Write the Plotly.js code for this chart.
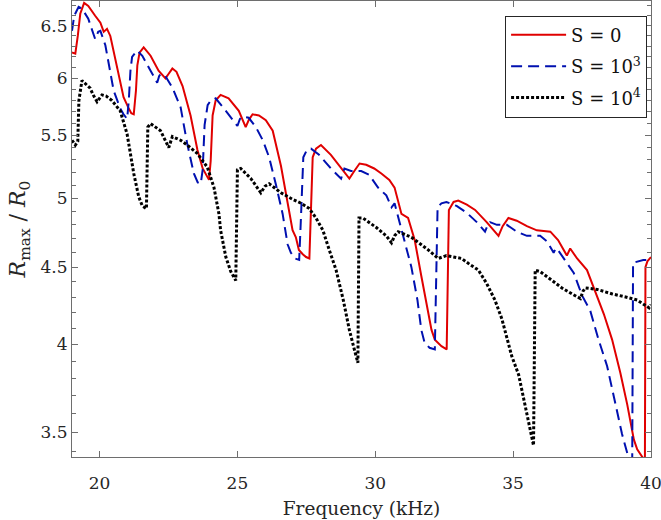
<!DOCTYPE html>
<html>
<head>
<meta charset="utf-8">
<script src="https://cdn.plot.ly/plotly-3.0.1.min.js"></script>
<style>html,body{margin:0;padding:0;background:#fff}#chart{width:661px;height:520px}</style>
</head>
<body>
<div id="chart"></div>
<script>
// S = 0 (red, solid)
var freqS0 = [19.00,19.12,19.21,19.30,19.44,19.59,19.84,20.03,20.15,20.27,20.39,20.63,20.87,21.04,21.15,21.24,21.32,21.37,21.45,21.60,21.85,22.14,22.39,22.50,22.64,22.79,23.01,23.30,23.55,23.74,23.88,23.97,24.03,24.10,24.21,24.39,24.68,25.05,25.30,25.41,25.55,25.78,26.03,26.28,26.58,27.00,27.12,27.23,27.37,27.49,27.61,27.65,27.73,27.85,28.03,28.39,28.76,29.06,29.24,29.43,29.67,29.96,30.22,30.51,30.70,30.95,31.19,31.43,31.67,32.04,32.16,32.40,32.59,32.64,32.67,32.84,33.01,33.32,33.62,34.04,34.47,34.62,34.83,35.13,35.50,35.86,36.35,36.63,36.84,36.95,37.07,37.32,37.68,38.04,38.29,38.59,38.89,39.14,39.38,39.50,39.75,39.78,39.80,39.87,40.00];
var rS0 = [6.24,6.23,6.40,6.62,6.73,6.70,6.60,6.53,6.44,6.47,6.40,6.10,5.83,5.74,5.69,5.68,5.89,6.12,6.24,6.29,6.21,6.07,6.00,6.04,6.09,6.06,5.93,5.67,5.38,5.23,5.17,5.14,5.29,5.67,5.80,5.85,5.82,5.71,5.57,5.63,5.68,5.67,5.63,5.54,5.25,4.76,4.71,4.62,4.59,4.57,4.56,4.83,5.32,5.39,5.42,5.34,5.23,5.15,5.21,5.27,5.26,5.23,5.19,5.14,5.08,4.88,4.85,4.69,4.44,4.09,4.03,3.99,3.97,4.55,4.91,4.97,4.98,4.95,4.91,4.82,4.72,4.79,4.85,4.83,4.79,4.76,4.75,4.69,4.62,4.58,4.63,4.56,4.48,4.31,4.19,4.03,3.83,3.65,3.46,3.41,3.35,3.35,4.50,4.54,4.57];
// S = 10^3 (blue, dashed)
var freqS3 = [19.00,19.08,19.24,19.37,19.59,19.84,19.95,20.03,20.21,20.51,20.75,20.87,21.00,21.06,21.12,21.18,21.36,21.55,21.85,22.09,22.16,22.21,22.39,22.65,22.94,23.18,23.42,23.56,23.67,23.74,23.81,23.92,24.03,24.21,24.58,25.00,25.09,25.18,25.41,25.67,25.92,26.15,26.40,26.64,26.82,26.94,27.09,27.24,27.30,27.39,27.52,27.67,27.96,28.39,28.76,28.83,28.88,29.12,29.49,29.78,30.10,30.40,30.59,30.70,30.83,31.06,31.31,31.53,31.67,31.79,31.97,32.16,32.20,32.26,32.40,32.58,32.95,33.31,33.68,33.98,34.08,34.16,34.41,34.77,35.13,35.50,35.98,36.23,36.47,36.54,36.59,36.84,37.20,37.50,37.80,38.08,38.41,38.66,38.95,39.14,39.32,39.35,39.72,40.00];
var rS3 = [6.45,6.60,6.69,6.67,6.57,6.37,6.44,6.45,6.31,5.89,5.73,5.68,5.64,5.80,6.07,6.20,6.26,6.21,6.07,5.96,6.02,6.04,6.02,5.91,5.74,5.43,5.19,5.12,5.11,5.22,5.59,5.76,5.80,5.82,5.71,5.58,5.64,5.66,5.65,5.57,5.46,5.32,5.10,4.88,4.66,4.60,4.56,4.55,4.83,5.32,5.38,5.39,5.34,5.23,5.15,5.20,5.23,5.21,5.21,5.18,5.08,5.02,4.93,4.96,4.86,4.69,4.50,4.28,4.09,4.01,3.98,3.97,4.41,4.93,4.96,4.97,4.94,4.89,4.82,4.75,4.80,4.82,4.80,4.80,4.75,4.72,4.72,4.68,4.60,4.63,4.63,4.56,4.46,4.31,4.21,4.04,3.87,3.69,3.49,3.39,3.35,4.53,4.55,4.55];
// S = 10^4 (black, dotted)
var freqS4 = [19.00,19.12,19.21,19.25,19.36,19.52,19.66,19.77,19.91,20.09,20.24,20.45,20.75,21.00,21.24,21.42,21.55,21.70,21.75,21.85,22.21,22.51,22.64,22.94,23.18,23.55,23.91,24.15,24.33,24.39,24.58,24.76,24.94,25.00,25.12,25.49,25.85,26.00,26.15,26.58,27.00,27.31,27.61,27.85,28.10,28.33,28.58,28.84,29.06,29.24,29.37,29.41,29.55,30.04,30.40,30.59,30.70,30.83,31.31,31.92,32.28,32.58,32.89,33.13,33.42,33.74,34.04,34.34,34.59,34.95,35.20,35.39,35.57,35.74,35.80,35.98,36.41,36.77,37.14,37.44,37.54,37.62,38.05,38.60,39.08,39.50,39.93,40.00];
var rS4 = [5.46,5.42,5.45,5.80,5.98,5.94,5.91,5.85,5.79,5.85,5.84,5.80,5.71,5.51,5.19,5.01,4.94,4.92,5.57,5.60,5.54,5.40,5.49,5.46,5.42,5.35,5.24,5.08,4.88,4.76,4.57,4.47,4.41,5.22,5.23,5.15,5.04,5.09,5.11,5.04,4.99,4.96,4.92,4.85,4.76,4.62,4.48,4.28,4.09,3.97,3.89,4.85,4.85,4.78,4.72,4.67,4.72,4.75,4.71,4.62,4.56,4.58,4.57,4.56,4.52,4.48,4.39,4.28,4.16,3.93,3.82,3.68,3.55,3.43,4.48,4.47,4.41,4.36,4.32,4.29,4.34,4.36,4.35,4.32,4.30,4.28,4.23,4.25];
var xTicks = [20, 25, 30, 35, 40];
var yTicks = [3.5, 4, 4.5, 5, 5.5, 6, 6.5];
var yMinor = [3.4, 3.6, 3.7, 3.8, 3.9, 4.1, 4.2, 4.3, 4.4, 4.6, 4.7, 4.8, 4.9, 5.1, 5.2, 5.3, 5.4, 5.6, 5.7, 5.8, 5.9, 6.1, 6.2, 6.3, 6.4, 6.6, 6.7];
var seriesNames = ['S = 0', 'S = 10<sup>3</sup>', 'S = 10<sup>4</sup>'];

var FONT = 'DejaVu Serif, serif';
var traces = [
  {x: freqS0, y: rS0, name: seriesNames[0], legendgroup: 'g0', mode: 'lines', line: {color: '#e00000', width: 2}},
  {x: freqS3, y: rS3, name: seriesNames[1], legendgroup: 'g1', mode: 'lines', line: {color: '#0010b0', width: 2, dash: '11px,6px'}},
  {x: freqS4, y: rS4, name: seriesNames[2], legendgroup: 'g2', mode: 'lines', line: {color: '#000000', width: 3, dash: '3px,2px'}}
];
var axColor = '#6e6e6e';
var layout = {
  width: 661, height: 520,
  margin: {l: 72, r: 10, t: 1, b: 63},
  paper_bgcolor: '#fff', plot_bgcolor: '#fff',
  font: {family: FONT, size: 17, color: '#262626'},
  showlegend: true,
  legend: {x: 0.748, y: 0.968, xanchor: 'left', yanchor: 'top', bgcolor: '#fff', bordercolor: '#262626', borderwidth: 1,
           font: {family: FONT, size: 18, color: '#111'}, itemwidth: 55, traceorder: 'grouped', tracegroupgap: 5},
  xaxis: {range: [19, 40.001], tickvals: xTicks, ticktext: xTicks.map(String), ticks: 'inside', ticklen: 6, tickcolor: axColor,
          showline: true, linecolor: axColor, linewidth: 1, mirror: 'ticks', showgrid: false, zeroline: false,
          ticklabelstandoff: 11, ticklabeloverflow: 'allow', tickfont: {size: 17},
          title: {text: 'Frequency (kHz)', font: {family: FONT, size: 18.5, color: '#262626'}, standoff: 9}},
  yaxis: {type: 'log', range: [Math.log10(3.37), Math.log10(6.75)], tickvals: yTicks, ticktext: yTicks.map(String),
          ticks: 'inside', ticklen: 6, tickcolor: axColor, showline: true, linecolor: axColor, linewidth: 1, mirror: 'ticks',
          showgrid: false, zeroline: false,
          minor: {tickmode: 'array', tickvals: yMinor, ticks: 'inside', ticklen: 4, tickcolor: axColor, showgrid: false},
          title: {text: '<i>R</i><sub>max</sub> / <i>R</i><sub>0</sub>', font: {family: FONT, size: 22, color: '#262626'}, standoff: 8}}
};
Plotly.newPlot('chart', traces, layout, {staticPlot: true, displayModeBar: false});
</script>
</body>
</html>
